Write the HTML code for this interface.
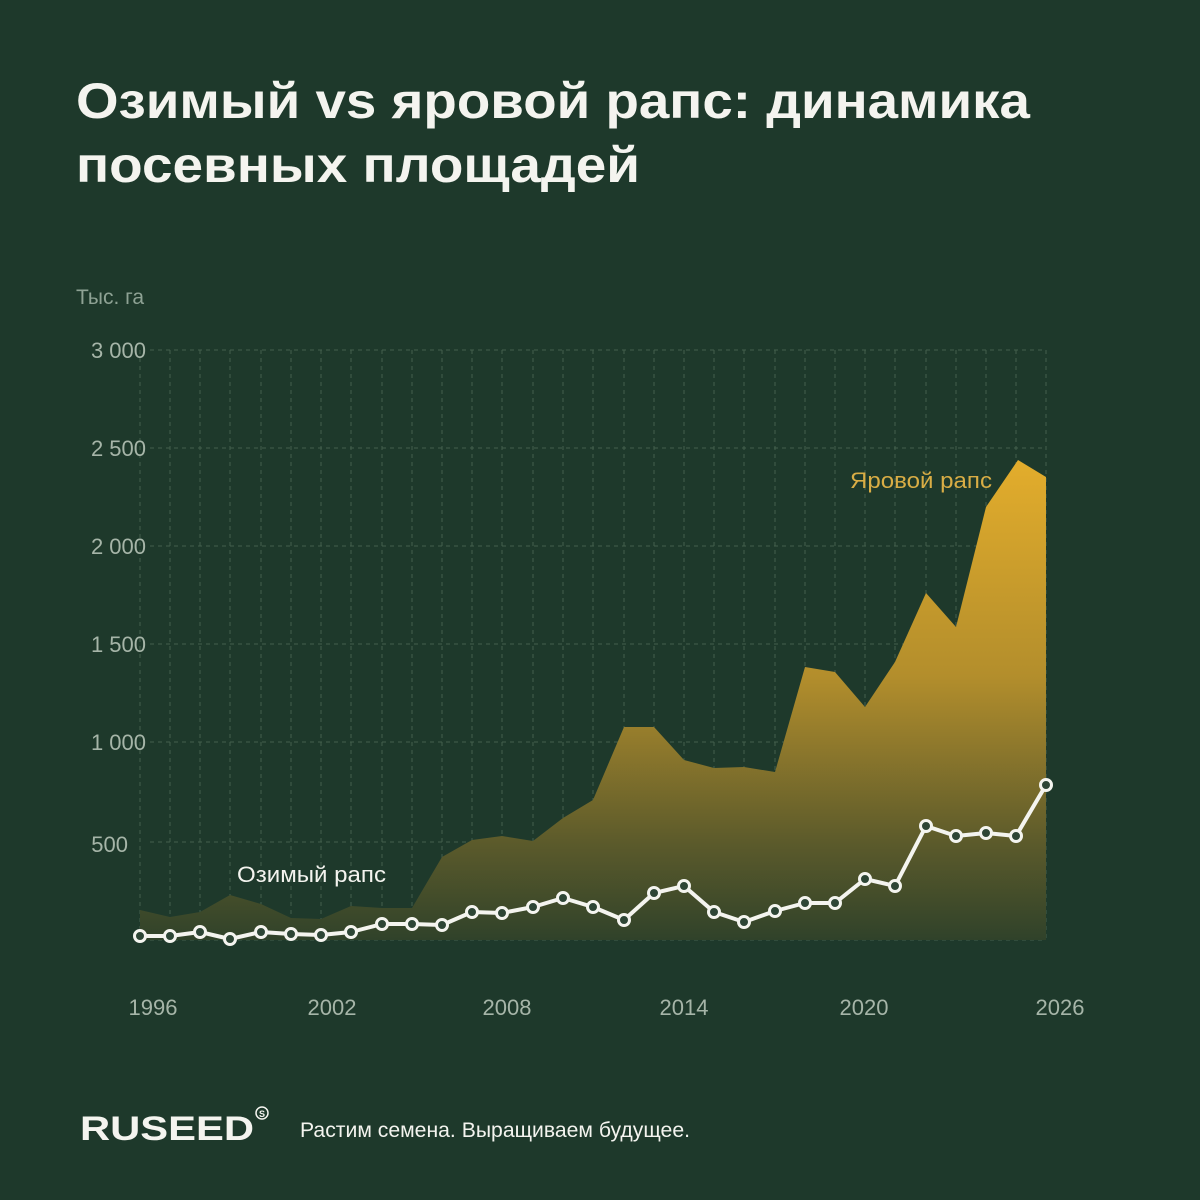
<!DOCTYPE html>
<html><head><meta charset="utf-8"><style>
html,body{margin:0;padding:0;background:#1e392b;}
svg{display:block;}
</style></head><body>
<svg width="1200" height="1200" viewBox="0 0 1200 1200" xmlns="http://www.w3.org/2000/svg" font-family="Liberation Sans, sans-serif">
<defs>
<linearGradient id="g" x1="0" y1="460" x2="0" y2="940" gradientUnits="userSpaceOnUse">
<stop offset="0" stop-color="#e3ad2c"/>
<stop offset="0.45" stop-color="#b38e2c"/>
<stop offset="0.8" stop-color="#5b5a2b"/>
<stop offset="1" stop-color="#30422a"/>
</linearGradient>
</defs>
<rect width="1200" height="1200" fill="#1e392b"/>
<text x="76" y="118" font-size="50" font-weight="bold" fill="#f4f4ef" textLength="954" lengthAdjust="spacingAndGlyphs">Озимый vs яровой рапс: динамика</text>
<text x="76" y="182" font-size="50" font-weight="bold" fill="#f4f4ef" textLength="564" lengthAdjust="spacingAndGlyphs">посевных площадей</text>
<text x="76" y="304" font-size="21" fill="#8ea294">Тыс. га</text>
<g stroke="#4b6653" stroke-width="1" stroke-dasharray="4,4" fill="none" opacity="0.85">
<path d="M150 350H1046M150 448H1046M150 546H1046M150 644H1046M150 742H1046M150 842H1046M150 940H1046"/>
<path d="M140 350V940M170 350V940M200 350V940M230 350V940M261 350V940M291 350V940M321 350V940M351 350V940M382 350V940M412 350V940M442 350V940M472 350V940M502 350V940M533 350V940M563 350V940M593 350V940M624 350V940M654 350V940M684 350V940M714 350V940M744 350V940M775 350V940M805 350V940M835 350V940M865 350V940M895 350V940M926 350V940M956 350V940M986 350V940M1016 350V940M1046 350V940"/>
</g>
<g font-size="22" fill="#a6b5a8" text-anchor="end">
<text x="146" y="358">3 000</text>
<text x="146" y="456">2 500</text>
<text x="146" y="554">2 000</text>
<text x="146" y="652">1 500</text>
<text x="146" y="750">1 000</text>
<text x="128" y="852">500</text>
</g>
<path d="M140 910L170 917L200 912L230 895L261 904L291 918L321 919L351 906L382 908L412 908L442 857L472 840L502 836L533 841L563 818L593 800L624 727L654 727L684 760L714 768L744 767L775 772L805 667L835 672L865 707L895 662L926 593L956 627L986 507L1018 460L1046 477L1046 940L140 940Z" fill="url(#g)"/>
<polyline points="140,936 170,936 200,932 230,939 261,932 291,934 321,935 351,932 382,924 412,924 442,925 472,912 502,913 533,907 563,898 593,907 624,920 654,893 684,886 714,912 744,922 775,911 805,903 835,903 865,879 895,886 926,826 956,836 986,833 1016,836 1046,785" fill="none" stroke="#f4f4ef" stroke-width="4" stroke-linejoin="round"/>
<g fill="#2d4535" stroke="#f4f4ef" stroke-width="3">
<circle cx="140" cy="936" r="5.5"/><circle cx="170" cy="936" r="5.5"/><circle cx="200" cy="932" r="5.5"/><circle cx="230" cy="939" r="5.5"/><circle cx="261" cy="932" r="5.5"/><circle cx="291" cy="934" r="5.5"/><circle cx="321" cy="935" r="5.5"/><circle cx="351" cy="932" r="5.5"/><circle cx="382" cy="924" r="5.5"/><circle cx="412" cy="924" r="5.5"/><circle cx="442" cy="925" r="5.5"/><circle cx="472" cy="912" r="5.5"/><circle cx="502" cy="913" r="5.5"/><circle cx="533" cy="907" r="5.5"/><circle cx="563" cy="898" r="5.5"/><circle cx="593" cy="907" r="5.5"/><circle cx="624" cy="920" r="5.5"/><circle cx="654" cy="893" r="5.5"/><circle cx="684" cy="886" r="5.5"/><circle cx="714" cy="912" r="5.5"/><circle cx="744" cy="922" r="5.5"/><circle cx="775" cy="911" r="5.5"/><circle cx="805" cy="903" r="5.5"/><circle cx="835" cy="903" r="5.5"/><circle cx="865" cy="879" r="5.5"/><circle cx="895" cy="886" r="5.5"/><circle cx="926" cy="826" r="5.5"/><circle cx="956" cy="836" r="5.5"/><circle cx="986" cy="833" r="5.5"/><circle cx="1016" cy="836" r="5.5"/><circle cx="1046" cy="785" r="5.5"/>
</g>
<text x="237" y="882" font-size="22" fill="#f4f4ef" textLength="149" lengthAdjust="spacingAndGlyphs">Озимый рапс</text>
<text x="850" y="488" font-size="22" fill="#d9ad45" textLength="142" lengthAdjust="spacingAndGlyphs">Яровой рапс</text>
<g font-size="22" fill="#a6b5a8" text-anchor="middle">
<text x="153" y="1015">1996</text>
<text x="332" y="1015">2002</text>
<text x="507" y="1015">2008</text>
<text x="684" y="1015">2014</text>
<text x="864" y="1015">2020</text>
<text x="1060" y="1015">2026</text>
</g>
<text x="80" y="1140" font-size="34" font-weight="bold" fill="#f4f4ef" textLength="174" lengthAdjust="spacingAndGlyphs">RUSEED</text>
<circle cx="262" cy="1113" r="6" fill="none" stroke="#f4f4ef" stroke-width="1.5"/>
<text x="262" y="1117" font-size="9" font-weight="bold" fill="#f4f4ef" text-anchor="middle">S</text>
<text x="300" y="1137" font-size="21" fill="#f4f4ef" textLength="390" lengthAdjust="spacingAndGlyphs">Растим семена. Выращиваем будущее.</text>
</svg>
</body></html>
